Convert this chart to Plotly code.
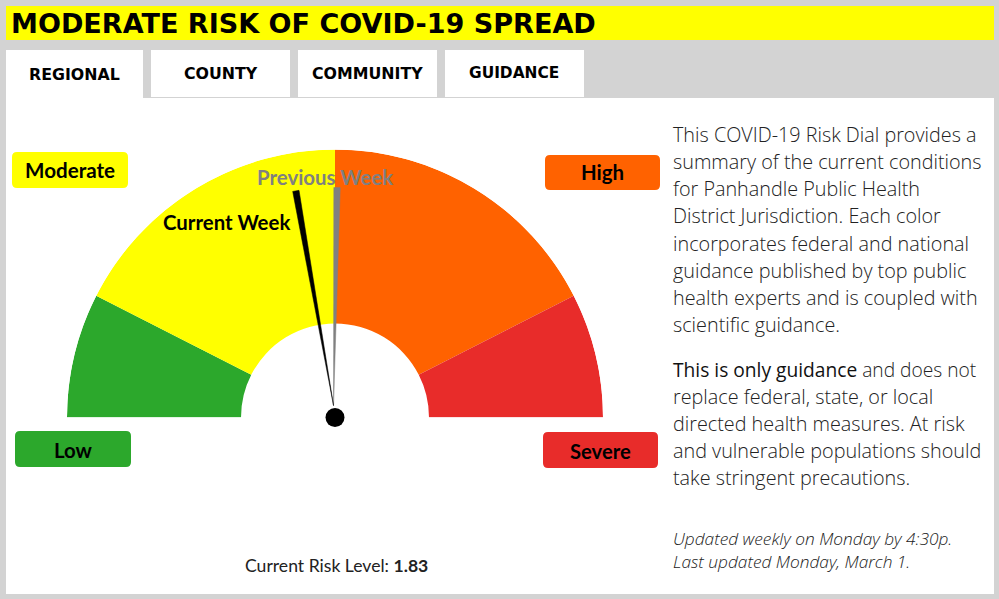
#!/usr/bin/env python3
import plotly.graph_objects as go

W, H = 999, 599

title_text = 'MODERATE RISK OF COVID-19 SPREAD'
tab_labels = ['REGIONAL', 'COUNTY', 'COMMUNITY', 'GUIDANCE']

# dial sectors, widths in degrees of the half circle
sector_names = ['Low', 'Moderate', 'High', 'Severe']
sector_widths = [27, 63, 63, 27]
sector_colors = ['#2ca82c', '#ffff00', '#ff6200', '#e82c2a']

# needle directions in degrees (0 = right, 90 = straight up)
needle_names = ['Current Week', 'Previous Week']
needle_angles = [99.8, 89.5]
needle_colors = ['black', 'gray']

risk_level = 1.83

body_lines = [
    'This COVID-19 Risk Dial provides a',
    'summary of the current conditions',
    'for Panhandle Public Health',
    'District Jurisdiction. Each color',
    'incorporates federal and national',
    'guidance published by top public',
    'health experts and is coupled with',
    'scientific guidance.',
]
guidance_lines = [
    '<span style="font-weight:500;fill:#111111">This is only guidance</span> and does not',
    'replace federal, state, or local',
    'directed health measures. At risk',
    'and vulnerable populations should',
    'take stringent precautions.',
]
update_lines = [
    'Updated weekly on Monday by 4:30p.',
    'Last updated Monday, March 1.',
]

CX, CY, R_OUT, R_IN = 335, 417.5, 268, 94


def px(x):
    return x / W


def py(y):
    return 1 - y / H


def rect(x0, y0, x1, y1, color):
    return dict(type='rect', xref='paper', yref='paper', layer='below',
                x0=px(x0), x1=px(x1), y0=py(y0), y1=py(y1),
                fillcolor=color, line_width=0)


def round_rect(x0, y0, x1, y1, color, r=5):
    p = (f'M {px(x0 + r)} {py(y0)} L {px(x1 - r)} {py(y0)} '
         f'Q {px(x1)} {py(y0)} {px(x1)} {py(y0 + r)} L {px(x1)} {py(y1 - r)} '
         f'Q {px(x1)} {py(y1)} {px(x1 - r)} {py(y1)} L {px(x0 + r)} {py(y1)} '
         f'Q {px(x0)} {py(y1)} {px(x0)} {py(y1 - r)} L {px(x0)} {py(y0 + r)} '
         f'Q {px(x0)} {py(y0)} {px(x0 + r)} {py(y0)} Z')
    return dict(type='path', xref='paper', yref='paper', path=p,
                fillcolor=color, line_width=0)


def note(x, y, text, size, family='Lato', color='black', anchor='left', weight=None):
    font = dict(family=family, size=size, color=color)
    if weight:
        font['weight'] = weight
    return dict(xref='paper', yref='paper', x=px(x), y=py(y), text=text,
                showarrow=False, xanchor=anchor, yanchor='middle', borderpad=0,
                font=font)


fig = go.Figure()

# dial sectors, left to right
thetas = []
start = 180
for width in sector_widths:
    thetas.append(start - width / 2)
    start -= width

fig.add_trace(go.Barpolar(
    r=[R_OUT - R_IN] * len(sector_widths),
    base=[R_IN] * len(sector_widths),
    theta=thetas,
    width=sector_widths,
    marker=dict(color=sector_colors, line_width=0),
    text=sector_names,
    hoverinfo='text',
))

# needles, previous week drawn first
for name, angle, color in list(zip(needle_names, needle_angles, needle_colors))[::-1]:
    fig.add_trace(go.Scatterpolar(
        r=[12, 230, 230, 12],
        theta=[97, angle + 0.8, angle - 0.8, 97],
        mode='lines',
        fill='toself',
        fillcolor=color,
        line=dict(color=color, width=0.5),
        name=name,
        hoverinfo='name',
    ))

# hub of the dial
fig.add_trace(go.Scatterpolar(
    r=[0], theta=[90], mode='markers', cliponaxis=False,
    marker=dict(color='black', size=19), hoverinfo='skip',
))

shapes = [
    rect(6, 6, 994, 40, '#ffff00'),
    rect(6, 98, 994, 594, 'white'),
    rect(6, 50, 143, 98, 'white'),
    rect(151, 50, 290, 97, 'white'),
    rect(298, 50, 437, 97, 'white'),
    rect(445, 50, 584, 97, 'white'),
    round_rect(12, 152, 128, 188, sector_colors[1]),
    round_rect(545, 155, 660, 190, sector_colors[2]),
    round_rect(15, 431, 131, 467, sector_colors[0]),
    round_rect(543, 432, 658, 468, sector_colors[3]),
]

notes = [
    note(9.5, 24, f'<b>{title_text}</b>', 27.05, 'DejaVu Sans'),
    note(74.5, 75, f'<b>{tab_labels[0]}</b>', 15.8, 'DejaVu Sans', anchor='center'),
    note(220.5, 74, f'<b>{tab_labels[1]}</b>', 15.8, 'DejaVu Sans', anchor='center'),
    note(367.5, 74, f'<b>{tab_labels[2]}</b>', 15.8, 'DejaVu Sans', anchor='center'),
    note(514, 73, f'<b>{tab_labels[3]}</b>', 15.4, 'DejaVu Sans', anchor='center'),
    note(70, 170, f'<b>{sector_names[1]}</b>', 20.6, anchor='center'),
    note(602, 172.5, f'<b>{sector_names[2]}</b>', 20.4, anchor='center'),
    note(73, 449.5, f'<b>{sector_names[0]}</b>', 20.4, anchor='center'),
    note(600, 450.5, f'<b>{sector_names[3]}</b>', 20.2, anchor='center'),
    note(226.5, 221.5, f'<b>{needle_names[0]}</b>', 20.4, anchor='center'),
    note(325, 177, f'<b>{needle_names[1]}</b>', 20.4, color='gray', anchor='center'),
    note(336, 565, f'Current Risk Level: <b>{risk_level}</b>', 17.6, color='#222222',
         anchor='center'),
]

for i, line in enumerate(body_lines):
    notes.append(note(672, 134.5 + i * 27.14, line, 19.8, 'Open Sans', '#222222', weight=300))
for i, line in enumerate(guidance_lines):
    notes.append(note(672, 369.5 + i * 27, line, 19.2 if i == 0 else 19.8, 'Open Sans', '#222222',
                      weight=300))
for i, line in enumerate(update_lines):
    notes.append(note(672, 538 + i * 23.5, f'<i>{line}</i>', 17.3, 'Open Sans', '#222222', weight=300))

fig.update_layout(
    width=W,
    height=H,
    margin=dict(l=0, r=0, t=0, b=0),
    paper_bgcolor='#d3d3d3',
    showlegend=False,
    polar=dict(
        domain=dict(x=[px(CX - R_OUT), px(CX + R_OUT)], y=[py(CY), py(CY - R_OUT)]),
        sector=[0, 180],
        bgcolor='rgba(0,0,0,0)',
        radialaxis=dict(range=[0, R_OUT], visible=False),
        angularaxis=dict(visible=False),
    ),
    shapes=shapes,
    annotations=notes,
)

fig.write_html('out.html', config=dict(displayModeBar=False),
               post_script="document.body.style.margin='0';")
